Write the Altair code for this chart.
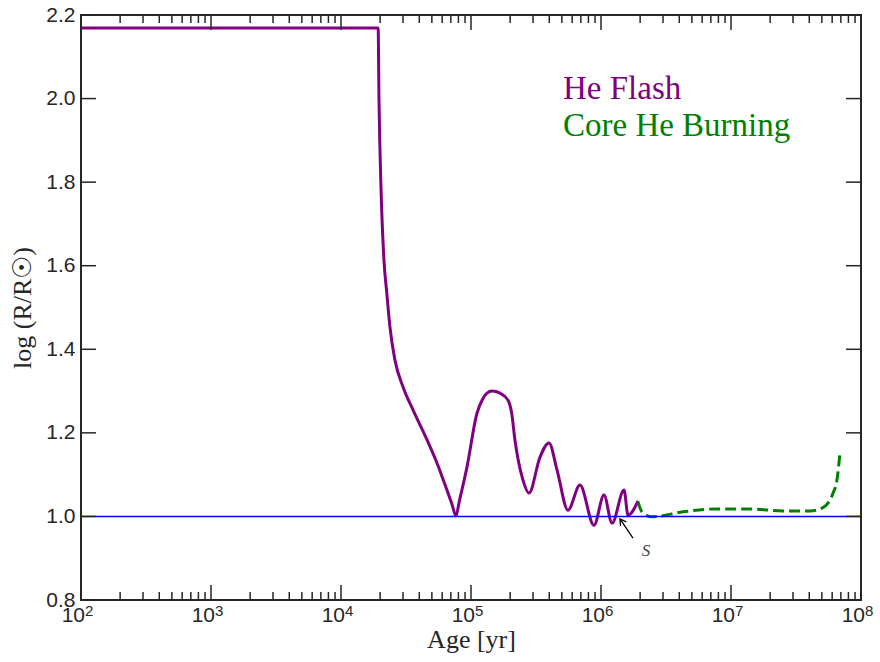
import altair as alt
import pandas as pd

# ---------------- data ----------------
he_flash_age = [1.0e2, 1.93e4, 1.96e4, 2.03e4, 2.14e4, 2.25e4, 2.38e4, 2.60e4, 3.00e4,
                3.58e4, 4.59e4, 5.47e4, 6.53e4, 7.14e4, 7.67e4, 8.09e4, 9.31e4, 1.112e5,
                1.216e5, 1.327e5, 1.452e5, 1.671e5, 1.928e5, 2.056e5, 2.178e5, 2.512e5,
                2.793e5, 3.396e5, 3.981e5, 4.592e5, 5.572e5, 6.887e5, 8.831e5, 1.054e6,
                1.216e6, 1.503e6, 1.614e6, 1.928e6]
he_flash_logr = [2.169, 2.169, 1.997, 1.788, 1.614, 1.535, 1.453, 1.374, 1.310,
                 1.255, 1.183, 1.128, 1.063, 1.029, 1.001, 1.033, 1.118, 1.247,
                 1.278, 1.295, 1.300, 1.295, 1.278, 1.247, 1.183, 1.087,
                 1.056, 1.142, 1.176, 1.111, 1.015, 1.075, 0.979, 1.051,
                 0.984, 1.063, 1.003, 1.037]

core_he_age = [1.928e6, 2.065e6, 2.466e6, 4.276e6, 7.80e6, 1.40e7, 2.51e7, 4.055e7,
               5.01e7, 5.57e7, 6.10e7, 6.53e7, 6.89e7]
core_he_logr = [1.035, 1.011, 0.999, 1.011, 1.018, 1.018, 1.013, 1.013,
                1.020, 1.032, 1.056, 1.087, 1.152]

ref_age = [1.0e2, 1.0e8]
ref_logr = [1.0, 1.0]

x_major = [1e2, 1e3, 1e4, 1e5, 1e6, 1e7, 1e8]
x_base = ["10", "10", "10", "10", "10", "10", "10"]
x_exponents = ["2", "3", "4", "5", "6", "7", "8"]
x_minor = [m * 10 ** k for k in range(2, 8) for m in range(2, 10)]
y_major = [0.8, 1.0, 1.2, 1.4, 1.6, 1.8, 2.0, 2.2]

label_text = ["He Flash", "Core He Burning"]
label_age = [5.1e5, 5.1e5]
label_logr = [2.0, 1.91]
label_color = ["#800080", "#008000"]

arrow_age = [1.762e6, 1.400e6]
arrow_logr = [0.948, 0.994]
head_age = [1.413e6, 1.400e6, 1.567e6]
head_logr = [0.977, 0.994, 0.987]
s_age = [2.22e6]
s_logr = [0.917]

# ---------------- chart ----------------
W, H = 780, 585
DARK = "#262626"

xs = alt.Scale(type="log", domain=[1e2, 1e8], nice=False)
ys = alt.Scale(domain=[0.8, 2.2], nice=False, zero=False)

xaxis = alt.Axis(values=x_major, labels=False, ticks=False, domain=False, grid=False,
                 title="Age [yr]", titleFont="Liberation Serif", titleFontSize=26,
                 titleFontWeight="normal", titleColor=DARK, titleY=47,
                 titleBaseline="alphabetic")
yaxis = alt.Axis(values=y_major, format=".1f", ticks=False, domain=False, grid=False,
                 labelFont="Liberation Sans", labelFontSize=21, labelColor=DARK,
                 labelPadding=6, labelOverlap=False, labelFlush=False, labelBound=False,
                 title="log (R/R☉)", titleFont="Liberation Serif", titleFontSize=26,
                 titleFontWeight="normal", titleColor=DARK, titlePadding=10)


def X():
    return alt.X("x:Q", scale=xs, axis=xaxis)


def Y():
    return alt.Y("y:Q", scale=ys, axis=yaxis)


def df(xv, yv, **extra):
    d = {"x": xv, "y": yv}
    d.update(extra)
    return pd.DataFrame(d)


purple = alt.Chart(df(he_flash_age, he_flash_logr)).mark_line(
    color="#800080", strokeWidth=3, interpolate="monotone", clip=True
).encode(x=X(), y=Y())

green = alt.Chart(df(core_he_age, core_he_logr)).mark_line(
    color="#008000", strokeWidth=3, strokeDash=[11, 5], interpolate="monotone", clip=True
).encode(x=X(), y=Y())

blue = alt.Chart(df(ref_age, ref_logr)).mark_line(
    color="#0000ff", strokeWidth=1.5
).encode(x=X(), y=Y())

# inward ticks
xmaj = pd.DataFrame({"x": x_major})
xmin = pd.DataFrame({"x": x_minor})
ymaj = pd.DataFrame({"y": y_major})
tick_kw = dict(color=DARK, strokeWidth=1.5)
ticks = [
    alt.Chart(xmaj).mark_rule(**tick_kw).encode(x=X(), y=alt.value(H), y2=alt.value(H - 15)),
    alt.Chart(xmaj).mark_rule(**tick_kw).encode(x=X(), y=alt.value(0), y2=alt.value(15)),
    alt.Chart(xmin).mark_rule(**tick_kw).encode(x=X(), y=alt.value(H), y2=alt.value(H - 8)),
    alt.Chart(xmin).mark_rule(**tick_kw).encode(x=X(), y=alt.value(0), y2=alt.value(8)),
    alt.Chart(ymaj).mark_rule(**tick_kw).encode(y=Y(), x=alt.value(0), x2=alt.value(15)),
    alt.Chart(ymaj).mark_rule(**tick_kw).encode(y=Y(), x=alt.value(W), x2=alt.value(W - 15)),
]

# x tick labels: base "10" plus raised exponent
xlab = pd.DataFrame({"x": x_major, "b": x_base, "e": x_exponents})
base = alt.Chart(xlab).mark_text(
    font="Liberation Sans", fontSize=21, color=DARK, align="right", baseline="top", dx=4
).encode(x=X(), y=alt.value(H + 5), text="b:N")
expo = alt.Chart(xlab).mark_text(
    font="Liberation Sans", fontSize=15, color=DARK, align="left", baseline="top", dx=4
).encode(x=X(), y=alt.value(H + 4), text="e:N")

labels = alt.Chart(df(label_age, label_logr, t=label_text, c=label_color)).mark_text(
    font="Liberation Serif", fontSize=33, align="left", baseline="alphabetic"
).encode(x=X(), y=Y(), text="t:N", color=alt.Color("c:N", scale=None))

arrow = alt.Chart(df(arrow_age, arrow_logr)).mark_line(color="black", strokeWidth=1.3).encode(
    x=X(), y=Y())
head = alt.Chart(df(head_age, head_logr, o=[0, 1, 2])).mark_line(
    color="black", strokeWidth=1.3).encode(x=X(), y=Y(), order="o:Q")
s_text = alt.Chart(df(s_age, s_logr, t=["S"])).mark_text(
    font="Liberation Serif", fontSize=17, fontStyle="italic", color="#444444",
    align="center", baseline="middle").encode(x=X(), y=Y(), text="t:N")

chart = alt.layer(
    purple, green, blue, *ticks, base, expo, labels, arrow, head, s_text
).properties(
    width=W, height=H,
    autosize=alt.AutoSizeParams(type="none"),
    padding={"left": 81, "top": 15, "right": 19, "bottom": 62},
).configure_view(stroke=DARK, strokeWidth=2)

chart.save("out.html", embed_options={"renderer": "svg", "actions": False})
